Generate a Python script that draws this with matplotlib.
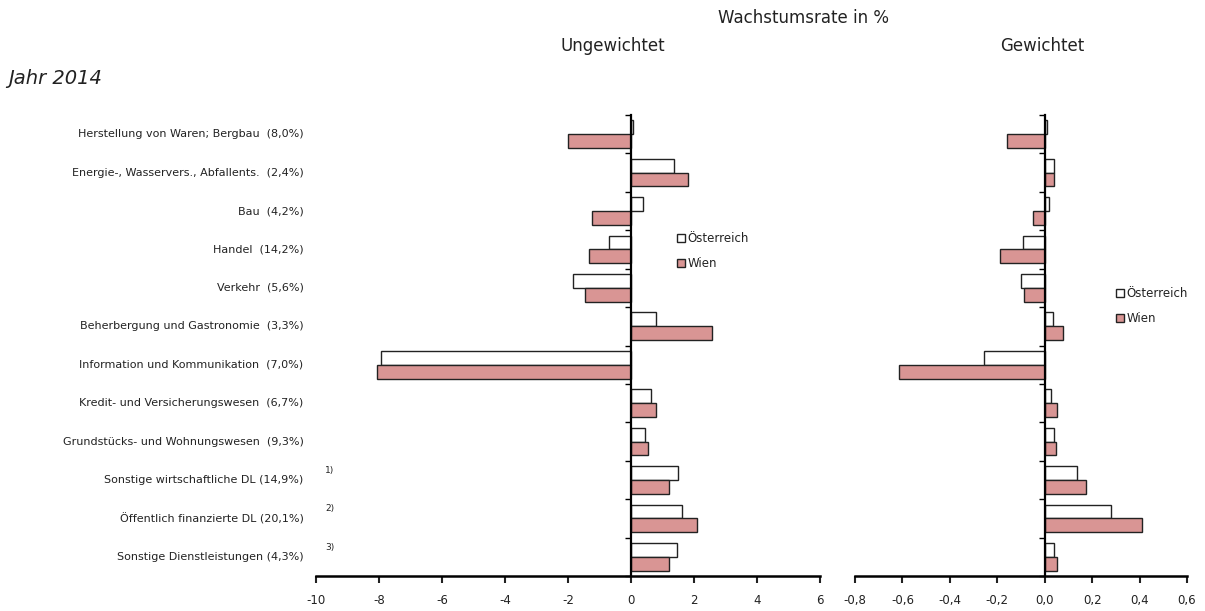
import numpy as np
import matplotlib.pyplot as plt
from matplotlib.ticker import FuncFormatter

# Wirtschaftsbereiche mit Anteil
kategorien = [
    'Herstellung von Waren; Bergbau  (8,0%)',
    'Energie-, Wasservers., Abfallents.  (2,4%)',
    'Bau  (4,2%)',
    'Handel  (14,2%)',
    'Verkehr  (5,6%)',
    'Beherbergung und Gastronomie  (3,3%)',
    'Information und Kommunikation  (7,0%)',
    'Kredit- und Versicherungswesen  (6,7%)',
    'Grundstücks- und Wohnungswesen  (9,3%)',
    'Sonstige wirtschaftliche DL (14,9%)',
    'Öffentlich finanzierte DL (20,1%)',
    'Sonstige Dienstleistungen (4,3%)',
]
fussnoten = ['', '', '', '', '', '', '', '', '', '1)', '2)', '3)']

# Wachstumsrate ungewichtet
oesterreich_ungew = [0.05, 1.37, 0.37, -0.71, -1.83, 0.80, -7.93, 0.65, 0.44, 1.49, 1.61, 1.45]
wien_ungew = [-1.99, 1.81, -1.23, -1.34, -1.46, 2.56, -8.05, 0.80, 0.53, 1.21, 2.09, 1.21]

# Wachstumsrate gewichtet
oesterreich_gew = [0.01, 0.041, 0.02, -0.092, -0.098, 0.035, -0.254, 0.026, 0.041, 0.138, 0.278, 0.041]
wien_gew = [-0.16, 0.041, -0.049, -0.19, -0.087, 0.079, -0.613, 0.052, 0.048, 0.176, 0.412, 0.052]

plt.rcParams['font.family'] = ['DejaVu Sans']
farbe_wien = '#d99594'
text_farbe = '#222222'

fig = plt.figure(figsize=(12.05, 6.11), dpi=100)
W, H = 1205, 611
ax1 = fig.add_axes([316 / W, 1 - 576 / H, (820 - 316) / W, (576 - 115) / H])
ax2 = fig.add_axes([855 / W, 1 - 576 / H, (1187 - 855) / W, (576 - 115) / H])

n = len(kategorien)
y = np.arange(n)
h = 0.36


def zeichne(ax, oe, wi, xlim, ticks, fmt, legend_px):
    ax.barh(y - h / 2, oe, height=h, color='white', edgecolor='#222222',
            linewidth=1.0, label='Österreich')
    ax.barh(y + h / 2, wi, height=h, color=farbe_wien, edgecolor='#222222',
            linewidth=1.0, label='Wien')
    ax.set_xlim(*xlim)
    ax.set_ylim(n - 0.5, -0.5)
    ax.set_xticks(ticks)
    ax.xaxis.set_major_formatter(FuncFormatter(fmt))
    ax.spines['top'].set_visible(False)
    ax.spines['right'].set_visible(False)
    ax.spines['left'].set_position(('data', 0))
    ax.spines['left'].set_linewidth(1.6)
    ax.spines['bottom'].set_linewidth(1.8)
    ax.set_yticks(np.arange(n + 1) - 0.5)
    ax.set_yticklabels([])
    ax.tick_params(axis='y', direction='out', length=4, width=1)
    ax.tick_params(axis='x', direction='out', length=5, width=1.5,
                   labelsize=8.5, colors=text_farbe, pad=8)
    leg = ax.legend(loc='upper left',
                    bbox_to_anchor=(legend_px[0] / W, 1 - legend_px[1] / H),
                    bbox_transform=fig.transFigure, frameon=False,
                    borderpad=0, borderaxespad=0,
                    fontsize=8.5, handlelength=0.65, handleheight=0.65,
                    handletextpad=0.25, labelspacing=1.05)
    for t in leg.get_texts():
        t.set_color(text_farbe)


zeichne(ax1, oesterreich_ungew, wien_ungew, (-10, 6), np.arange(-10, 7, 2),
        lambda v, p: f'{v:.0f}', (677, 232))
zeichne(ax2, oesterreich_gew, wien_gew, (-0.8, 0.6), np.arange(-0.8, 0.61, 0.2),
        lambda v, p: f'{v:.1f}'.replace('-0.0', '0.0').replace('.', ','), (1116, 287))

# Kategoriebeschriftungen links
for i, (k, f) in enumerate(zip(kategorien, fussnoten)):
    ax1.text(-10.4, i, k, ha='right', va='center', fontsize=8, color=text_farbe)
    if f:
        ax1.text(-9.7, i - 0.25, f, ha='left', va='center', fontsize=6.5,
                 color=text_farbe)

fig.text(803 / W, 1 - 18 / H, 'Wachstumsrate in %', ha='center', va='center',
         fontsize=12, color=text_farbe)
fig.text(613 / W, 1 - 46 / H, 'Ungewichtet', ha='center', va='center',
         fontsize=12, color=text_farbe)
fig.text(1042 / W, 1 - 46 / H, 'Gewichtet', ha='center', va='center',
         fontsize=12, color=text_farbe)
fig.text(8 / W, 1 - 78 / H, 'Jahr 2014', ha='left', va='center',
         fontsize=14, style='italic', color=text_farbe)

fig.savefig('out.png', dpi=100)
